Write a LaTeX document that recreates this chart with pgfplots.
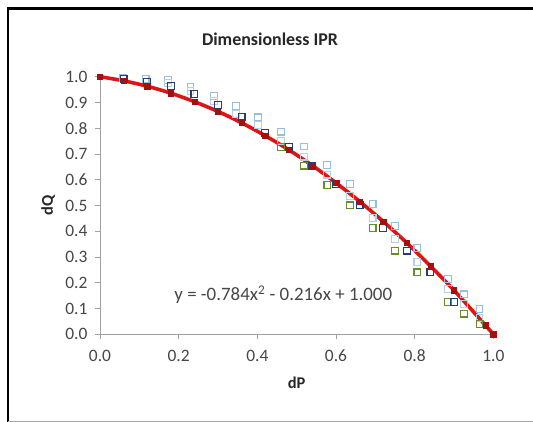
\documentclass[border=0pt]{standalone}
\usepackage{pgfplots}
\pgfplotsset{compat=1.18}
\usepackage{fontspec}
\setmainfont{Carlito}
\definecolor{fitred}{RGB}{218,22,22}
\definecolor{lightblue}{RGB}{150,190,222}
\definecolor{paleblue}{RGB}{185,205,225}
\definecolor{darkblue}{RGB}{40,60,110}
\definecolor{olive}{RGB}{105,140,40}
\definecolor{axisgray}{RGB}{160,160,160}
\definecolor{labgray}{RGB}{70,70,70}
\begin{document}
\begin{tikzpicture}
% page frame
\path[use as bounding box] (0bp,0bp) rectangle (533bp,422bp);
\draw[line width=2.6bp, black] (8bp,0bp) -- (8bp,413.5bp) -- (533bp,413.5bp);
\draw[line width=1bp, black!35] (8bp,0.7bp) -- (533bp,0.7bp);
\node[font=\fontsize{18}{20}\selectfont\bfseries, text=black!85] at (270bp,383bp) {Dimensionless IPR};
\begin{axis}[
    at={(100bp,87.7bp)}, anchor=south west,
    scale only axis, width=393.3bp, height=257.6bp,
    xmin=0, xmax=1, ymin=0, ymax=1,
    axis x line*=bottom, axis y line*=left,
    axis line style={axisgray, line width=0.9bp, -},
    xtick={0,0.2,...,1.0}, ytick={0,0.1,...,1.0},
    tick align=outside, major tick length=5bp,
    tick style={axisgray, line width=0.9bp},
    /pgf/number format/.cd, fixed, fixed zerofill, precision=1, assume math mode=true,
    /pgfplots/.cd,
    ticklabel style={font=\fontsize{17.5}{19}\selectfont, text=labgray},
    xticklabel style={yshift=-7bp},
    yticklabel style={xshift=-4bp},
    xlabel={dP}, ylabel={dQ},
    label style={font=\fontsize{16.5}{18}\selectfont\bfseries, text=black!85},
    xlabel style={at={(axis description cs:0.5,-0.189)}, anchor=center},
    ylabel style={at={(axis description cs:-0.132,0.5)}, anchor=center},
    clip=false,
]
% upper light series
\addplot[only marks, mark=square, mark size=3.4bp, mark options={lightblue, line width=1.1bp}]
coordinates {
 (0.058,0.995) (0.116,0.992) (0.173,0.987) (0.230,0.960) (0.290,0.925)
 (0.345,0.886) (0.402,0.842) (0.460,0.787) (0.519,0.729) (0.578,0.657)
 (0.635,0.583) (0.693,0.505) (0.750,0.421) (0.807,0.334) (0.884,0.215)
 (0.925,0.155) (0.965,0.097)
};
% second pale series
\addplot[only marks, mark=square, mark size=3.4bp, mark options={paleblue, line width=1.1bp}]
coordinates {
 (0.173,0.975) (0.230,0.945) (0.290,0.905) (0.345,0.856) (0.402,0.812)
 (0.460,0.752) (0.519,0.690) (0.578,0.620) (0.635,0.537) (0.693,0.452)
 (0.750,0.370) (0.807,0.282) (0.884,0.175) (0.925,0.118) (0.965,0.065)
};
% olive series
\addplot[only marks, mark=square, mark size=3.4bp, mark options={olive, line width=1.2bp}]
coordinates {
 (0.460,0.728) (0.519,0.655) (0.578,0.580) (0.635,0.500) (0.693,0.413)
 (0.750,0.325) (0.807,0.240) (0.884,0.125) (0.925,0.080) (0.965,0.040)
};
% dark series
\addplot[only marks, mark=square, mark size=3.4bp, mark options={darkblue, line width=1.2bp}]
coordinates {
 (0.060,0.990) (0.120,0.980) (0.180,0.964) (0.240,0.932) (0.300,0.890)
 (0.360,0.845) (0.420,0.783) (0.480,0.726) (0.540,0.655) (0.600,0.583)
 (0.660,0.500) (0.720,0.413) (0.780,0.325) (0.840,0.240) (0.900,0.125)
};
% fitted curve
\addplot[fitred, line width=3.6bp, smooth, mark=square*, mark size=2.6bp, mark options={fill=fitred!75!black, draw=fitred!75!black, line width=0.5bp}]
coordinates {
 (0.00,1.000) (0.06,0.984) (0.12,0.963) (0.18,0.936) (0.24,0.903)
 (0.30,0.865) (0.36,0.821) (0.42,0.771) (0.48,0.716) (0.54,0.655)
 (0.60,0.588) (0.66,0.516) (0.72,0.438) (0.78,0.355) (0.84,0.265)
 (0.90,0.171) (0.98,0.035) (1.00,0.000)
};
\node[font=\fontsize{19}{21}\selectfont, text=labgray] at (axis cs:0.466,0.153)
 {y = -0.784x\textsuperscript{2} - 0.216x + 1.000};
\end{axis}
\end{tikzpicture}
\end{document}
